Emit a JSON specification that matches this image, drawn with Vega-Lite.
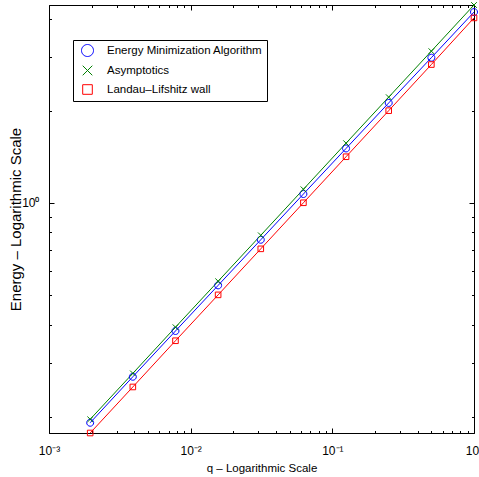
{
  "$schema": "https://vega.github.io/schema/vega-lite/v6.json",
  "width": 425,
  "height": 428,
  "autosize": {"type": "none"},
  "padding": {"left": 49, "top": 5, "right": 5, "bottom": 44},
  "background": "white",
  "config": {
    "view": {"stroke": "black", "strokeWidth": 1},
    "axis": {"domainColor": "black", "tickColor": "black", "labelColor": "black", "titleColor": "black", "grid": false, "labelFont": "Liberation Sans", "titleFont": "Liberation Sans", "titleFontWeight": "normal"}
  },
  "datasets": {
    "d": [
      {"q": 0.001953125, "E": 0.191, "series": "Energy Minimization Algorithm"},
      {"q": 0.00390625, "E": 0.270, "series": "Energy Minimization Algorithm"},
      {"q": 0.0078125, "E": 0.381, "series": "Energy Minimization Algorithm"},
      {"q": 0.015625, "E": 0.537, "series": "Energy Minimization Algorithm"},
      {"q": 0.03125, "E": 0.757, "series": "Energy Minimization Algorithm"},
      {"q": 0.0625, "E": 1.068, "series": "Energy Minimization Algorithm"},
      {"q": 0.125, "E": 1.505, "series": "Energy Minimization Algorithm"},
      {"q": 0.25, "E": 2.12, "series": "Energy Minimization Algorithm"},
      {"q": 0.5, "E": 2.98, "series": "Energy Minimization Algorithm"},
      {"q": 1, "E": 4.2, "series": "Energy Minimization Algorithm"},
      {"q": 0.001953125, "E": 0.196, "series": "Asymptotics"},
      {"q": 0.00390625, "E": 0.277, "series": "Asymptotics"},
      {"q": 0.0078125, "E": 0.392, "series": "Asymptotics"},
      {"q": 0.015625, "E": 0.554, "series": "Asymptotics"},
      {"q": 0.03125, "E": 0.783, "series": "Asymptotics"},
      {"q": 0.0625, "E": 1.107, "series": "Asymptotics"},
      {"q": 0.125, "E": 1.566, "series": "Asymptotics"},
      {"q": 0.25, "E": 2.214, "series": "Asymptotics"},
      {"q": 0.5, "E": 3.13, "series": "Asymptotics"},
      {"q": 1, "E": 4.43, "series": "Asymptotics"},
      {"q": 0.001953125, "E": 0.1768, "series": "Landau–Lifshitz wall"},
      {"q": 0.00390625, "E": 0.25, "series": "Landau–Lifshitz wall"},
      {"q": 0.0078125, "E": 0.354, "series": "Landau–Lifshitz wall"},
      {"q": 0.015625, "E": 0.5, "series": "Landau–Lifshitz wall"},
      {"q": 0.03125, "E": 0.707, "series": "Landau–Lifshitz wall"},
      {"q": 0.0625, "E": 1.0, "series": "Landau–Lifshitz wall"},
      {"q": 0.125, "E": 1.414, "series": "Landau–Lifshitz wall"},
      {"q": 0.25, "E": 2.0, "series": "Landau–Lifshitz wall"},
      {"q": 0.5, "E": 2.83, "series": "Landau–Lifshitz wall"},
      {"q": 1, "E": 4.02, "series": "Landau–Lifshitz wall"}
    ]
  },
  "data": {"name": "d"},
  "layer": [
    {
      "mark": {"type": "line", "strokeWidth": 1, "clip": false},
      "encoding": {
        "x": {
          "field": "q", "type": "quantitative",
          "scale": {"type": "log", "domain": [0.001, 1], "nice": false},
          "axis": {
            "orient": "bottom",
            "values": [0.001,0.002,0.003,0.004,0.005,0.006,0.007,0.008,0.009,0.01,0.02,0.03,0.04,0.05,0.06,0.07,0.08,0.09,0.1,0.2,0.3,0.4,0.5,0.6,0.7,0.8,0.9,1],
            "labelExpr": "datum.value == 0.001 ? '10⁻³' : datum.value == 0.01 ? '10⁻²' : datum.value == 0.1 ? '10⁻¹' : datum.value == 1 ? '10⁰' : ''",
            "tickSize": {"condition": {"test": "datum.value == 0.001 || datum.value == 0.01 || datum.value == 0.1 || datum.value == 1", "value": -5}, "value": -2.5},
            "labelFontSize": 12, "labelPadding": 17, "labelFlush": false, "labelOverlap": false,
            "title": "q – Logarithmic Scale", "titleFontSize": 11.5, "titlePadding": 4
          }
        },
        "y": {
          "field": "E", "type": "quantitative",
          "scale": {"type": "log", "domain": [0.1768, 4.43], "nice": false},
          "axis": {
            "orient": "left",
            "values": [0.2,0.3,0.4,0.5,0.6,0.7,0.8,0.9,1,2,3,4],
            "labelExpr": "datum.value == 1 ? '10⁰' : ''",
            "tickSize": {"condition": {"test": "datum.value == 1", "value": -5}, "value": -2.5},
            "labelFontSize": 12, "labelPadding": 15, "labelFlush": false, "labelOverlap": false,
            "title": "Energy – Logarithmic Scale", "titleFontSize": 15, "titleX": -34, "titleBaseline": "middle", "titleAngle": -90
          }
        },
        "color": {
          "field": "series", "type": "nominal",
          "scale": {"domain": ["Energy Minimization Algorithm", "Asymptotics", "Landau–Lifshitz wall"], "range": ["#0000ff", "#008000", "#ff0000"]}
        }
      }
    },
    {
      "mark": {"type": "point", "filled": false, "strokeWidth": 1, "size": 49, "opacity": 1, "clip": false},
      "encoding": {
        "x": {"field": "q", "type": "quantitative", "axis": null},
        "y": {"field": "E", "type": "quantitative", "axis": null},
        "color": {
          "field": "series", "type": "nominal",
          "legend": {
            "title": null, "orient": "none", "legendX": 24, "legendY": 35,
            "padding": 4, "strokeColor": "black", "fillColor": "white", "cornerRadius": 0,
            "labelFont": "Liberation Sans", "labelFontSize": 11.5, "labelColor": "black", "labelLimit": 400,
            "symbolSize": 144, "symbolOffset": 4, "labelOffset": 13, "rowPadding": 4,
            "symbolStrokeWidth": 1,
            "encode": {"symbols": {
              "shape": {"condition": [
                {"test": "datum.value === 'Asymptotics'", "value": "M-2,0H2M-0.35,-0.35L0.35,0.35M-0.35,0.35L0.35,-0.35"},
                {"test": "datum.value === 'Landau–Lifshitz wall'", "value": "M-2,0H-0.4M0.4,0H2M-0.4,-0.4H0.4V0.4H-0.4Z"}
              ], "value": "M-2,0H-0.5M0.5,0H2M0.5,0A0.5,0.5 0 1,1 -0.5,0A0.5,0.5 0 1,1 0.5,0"}
            }}
          }
        },
        "shape": {
          "field": "series", "type": "nominal", "legend": null,
          "scale": {"domain": ["Energy Minimization Algorithm", "Asymptotics", "Landau–Lifshitz wall"], "range": ["M1,0A1,1 0 1,1 -1,0A1,1 0 1,1 1,0", "M-0.8,-0.8L0.8,0.8M-0.8,0.8L0.8,-0.8", "M-0.8,-0.8H0.8V0.8H-0.8Z"]}
        }
      }
    },
    {
      "mark": {"type": "point", "opacity": 0},
      "encoding": {
        "x": {
          "field": "q", "type": "quantitative",
          "axis": {
            "orient": "top", "labels": false, "title": null, "domain": false,
            "values": [0.001,0.002,0.003,0.004,0.005,0.006,0.007,0.008,0.009,0.01,0.02,0.03,0.04,0.05,0.06,0.07,0.08,0.09,0.1,0.2,0.3,0.4,0.5,0.6,0.7,0.8,0.9,1],
            "tickSize": {"condition": {"test": "datum.value == 0.001 || datum.value == 0.01 || datum.value == 0.1 || datum.value == 1", "value": -5}, "value": -2.5}
          }
        },
        "y": {
          "field": "E", "type": "quantitative",
          "axis": {
            "orient": "right", "labels": false, "title": null, "domain": false,
            "values": [0.2,0.3,0.4,0.5,0.6,0.7,0.8,0.9,1,2,3,4],
            "tickSize": {"condition": {"test": "datum.value == 1", "value": -5}, "value": -2.5}
          }
        }
      }
    }
  ],
  "resolve": {"axis": {"x": "independent", "y": "independent"}}
}
